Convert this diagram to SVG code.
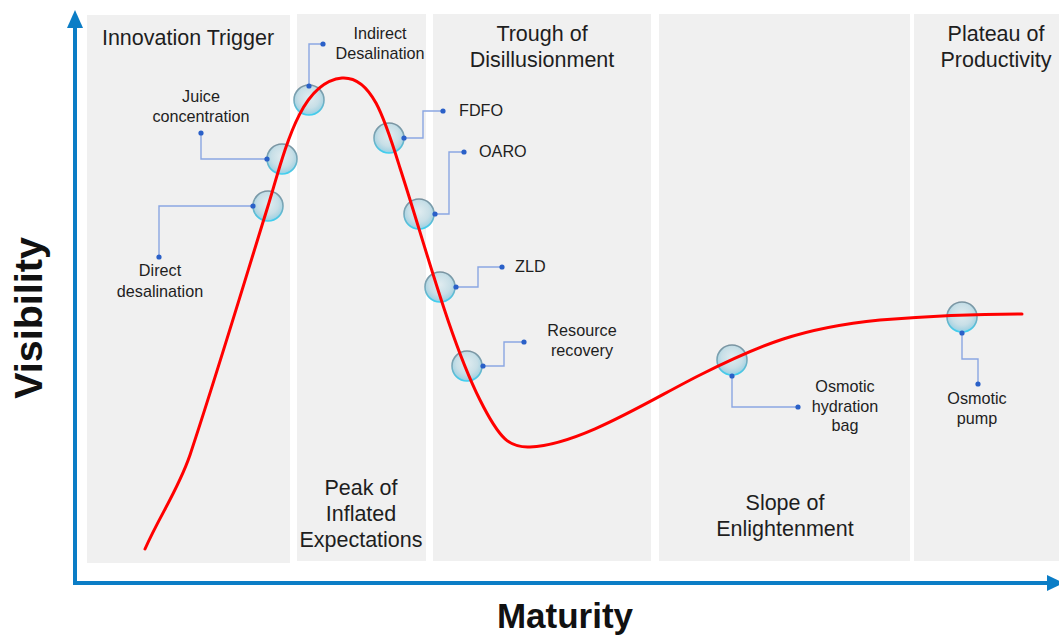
<svg xmlns="http://www.w3.org/2000/svg" width="1059" height="635" viewBox="0 0 1059 635">
  <defs>
    <radialGradient id="bubbleFill" cx="0.5" cy="0.42" r="0.58">
      <stop offset="0" stop-color="#e0ecf0"/>
      <stop offset="0.6" stop-color="#c8dfe7"/>
      <stop offset="0.85" stop-color="#acd5e3"/>
      <stop offset="1" stop-color="#86d3ec"/>
    </radialGradient>
    <linearGradient id="bubbleRim" x1="0" y1="0" x2="0" y2="1">
      <stop offset="0" stop-color="#7a93a0"/>
      <stop offset="0.5" stop-color="#79a8b9"/>
      <stop offset="1" stop-color="#3fcff0"/>
    </linearGradient>
    <style>
      .panel { fill: #f0f0f0; }
      .axis { stroke: #0b7dc6; stroke-width: 4; fill: none; }
      .axis-head { fill: #0b7dc6; }
      .curve { stroke: #ff0000; stroke-width: 3; fill: none; stroke-linecap: round; }
      .bubble { fill: url(#bubbleFill); stroke: url(#bubbleRim); stroke-width: 1.6; }
      .lead { stroke: #8aa6e2; stroke-width: 1.4; fill: none; }
      .dot { fill: #2a60c8; }
      .phase { font-family: "Liberation Sans", Arial, sans-serif; font-size: 21.5px; fill: #1e1e1e; text-anchor: middle; }
      .label { font-family: "Liberation Sans", Arial, sans-serif; font-size: 16.2px; fill: #1e1e1e; }
      .mid { text-anchor: middle; }
      .title { font-family: "Liberation Sans", Arial, sans-serif; font-weight: bold; fill: #111; text-anchor: middle; }
    </style>
  </defs>

  <!-- phase bands -->
  <g id="bands">
    <rect class="panel" x="87" y="15" width="203" height="548"/>
    <rect class="panel" x="297" y="14" width="129" height="547"/>
    <rect class="panel" x="433" y="14" width="218" height="547"/>
    <rect class="panel" x="659" y="14" width="251" height="547"/>
    <rect class="panel" x="914" y="14" width="145" height="547"/>
  </g>

  <!-- phase names -->
  <g id="phase-names">
    <text class="phase" x="188" y="45">Innovation Trigger</text>
    <text class="phase" x="542" y="41">Trough of</text>
    <text class="phase" x="542" y="67">Disillusionment</text>
    <text class="phase" x="996" y="41">Plateau of</text>
    <text class="phase" x="996" y="67">Productivity</text>
    <text class="phase" x="361" y="495">Peak of</text>
    <text class="phase" x="361" y="521">Inflated</text>
    <text class="phase" x="361" y="547">Expectations</text>
    <text class="phase" x="785" y="510">Slope of</text>
    <text class="phase" x="785" y="536">Enlightenment</text>
  </g>

  <!-- axes -->
  <g id="axes">
    <path class="axis" d="M75,585 V26"/>
    <polygon class="axis-head" points="75,10 67,28 83,28"/>
    <path class="axis" d="M73,583 H1048"/>
    <polygon class="axis-head" points="1064,583 1047,575 1047,591"/>
    <text class="title" font-size="39.5" transform="translate(42,318) rotate(-90)">Visibility</text>
    <text class="title" font-size="35" x="565" y="628">Maturity</text>
  </g>

  <!-- leader lines -->
  <g id="connectors">
    <polyline class="lead" points="253,206 159,206 159,257"/>
    <polyline class="lead" points="267,159 201,159 201,133"/>
    <polyline class="lead" points="309,86 309,44 323,44"/>
    <polyline class="lead" points="404,138 423,138 423,111 443,111"/>
    <polyline class="lead" points="435,214 449,214 449,152 464,152"/>
    <polyline class="lead" points="456,287 478,287 478,267 502,267"/>
    <polyline class="lead" points="483,366 504,366 504,342 524,342"/>
    <polyline class="lead" points="732,376 732,407 798,407"/>
    <polyline class="lead" points="962,333 962,359 978,359 978,384"/>
  </g>

  <g id="node-direct-desalination">
    <circle class="bubble" cx="268" cy="206" r="15"/>
    <circle class="dot" cx="253" cy="206" r="2.6"/>
    <circle class="dot" cx="159" cy="257" r="2.6"/>
    <text class="label mid" x="160" y="276">Direct</text>
    <text class="label mid" x="160" y="297">desalination</text>
  </g>

  <g id="node-juice-concentration">
    <circle class="bubble" cx="282" cy="159" r="15"/>
    <circle class="dot" cx="267" cy="159" r="2.6"/>
    <circle class="dot" cx="201" cy="133" r="2.6"/>
    <text class="label mid" x="201" y="102">Juice</text>
    <text class="label mid" x="201" y="122">concentration</text>
  </g>

  <g id="node-indirect-desalination">
    <circle class="bubble" cx="309" cy="100" r="15"/>
    <circle class="dot" cx="309" cy="86" r="2.6"/>
    <circle class="dot" cx="323" cy="44" r="2.6"/>
    <text class="label mid" x="380" y="39">Indirect</text>
    <text class="label mid" x="380" y="59">Desalination</text>
  </g>

  <g id="node-fdfo">
    <circle class="bubble" cx="389" cy="138" r="15"/>
    <circle class="dot" cx="404" cy="138" r="2.6"/>
    <circle class="dot" cx="443" cy="111" r="2.6"/>
    <text class="label" x="459" y="116">FDFO</text>
  </g>

  <g id="node-oaro">
    <circle class="bubble" cx="419" cy="214" r="15"/>
    <circle class="dot" cx="435" cy="214" r="2.6"/>
    <circle class="dot" cx="464" cy="152" r="2.6"/>
    <text class="label" x="479" y="157">OARO</text>
  </g>

  <g id="node-zld">
    <circle class="bubble" cx="440" cy="287" r="15"/>
    <circle class="dot" cx="456" cy="287" r="2.6"/>
    <circle class="dot" cx="502" cy="267" r="2.6"/>
    <text class="label" x="515" y="272">ZLD</text>
  </g>

  <g id="node-resource-recovery">
    <circle class="bubble" cx="467" cy="366" r="15"/>
    <circle class="dot" cx="483" cy="366" r="2.6"/>
    <circle class="dot" cx="524" cy="342" r="2.6"/>
    <text class="label mid" x="582" y="336">Resource</text>
    <text class="label mid" x="582" y="356">recovery</text>
  </g>

  <g id="node-osmotic-hydration-bag">
    <circle class="bubble" cx="732" cy="360" r="15"/>
    <circle class="dot" cx="732" cy="376" r="2.6"/>
    <circle class="dot" cx="798" cy="407" r="2.6"/>
    <text class="label mid" x="845" y="392">Osmotic</text>
    <text class="label mid" x="845" y="412">hydration</text>
    <text class="label mid" x="845" y="431">bag</text>
  </g>

  <g id="node-osmotic-pump">
    <circle class="bubble" cx="962" cy="317" r="15"/>
    <circle class="dot" cx="962" cy="333" r="2.6"/>
    <circle class="dot" cx="978" cy="384" r="2.6"/>
    <text class="label mid" x="977" y="404">Osmotic</text>
    <text class="label mid" x="977" y="424">pump</text>
  </g>

  <!-- hype curve, drawn over the bubbles -->
  <g id="curve">
    <path class="curve" d="M145,549 C160,515 178,490 190,455 C215,380 245,280 268,206 C285,150 300,82 342,78 C372,76 385,120 400,168 C425,245 450,340 480,400 C500,440 510,448 530,447 C580,445 650,400 700,375 C760,345 800,328 880,320 C930,316 980,314 1022,314"/>
  </g>
</svg>
